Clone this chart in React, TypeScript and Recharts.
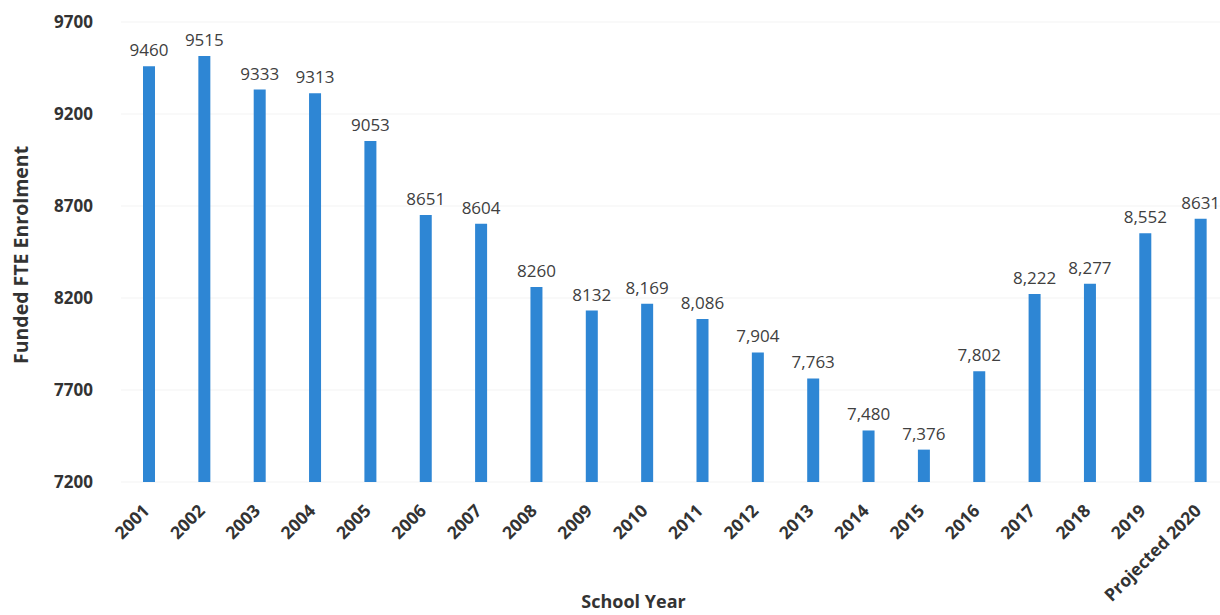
import { Bar, BarChart, CartesianGrid, LabelList, XAxis, YAxis } from 'recharts';

const years = [
  '2001', '2002', '2003', '2004', '2005', '2006', '2007', '2008', '2009', '2010',
  '2011', '2012', '2013', '2014', '2015', '2016', '2017', '2018', '2019', 'Projected 2020',
];

const enrolment = [
  9460, 9515, 9333, 9313, 9053, 8651, 8604, 8260, 8132, 8169,
  8086, 7904, 7763, 7480, 7376, 7802, 8222, 8277, 8552, 8631,
];

// labels as printed on the chart (some with thousands separators, some without)
const valueLabels = [
  '9460', '9515', '9333', '9313', '9053', '8651', '8604', '8260', '8132', '8,169',
  '8,086', '7,904', '7,763', '7,480', '7,376', '7,802', '8,222', '8,277', '8,552', '8631',
];

const yTicks = [7200, 7700, 8200, 8700, 9200, 9700];

const data = years.map((year, i) => ({
  year,
  value: enrolment[i],
  label: valueLabels[i],
}));

const FONT = '"Open Sans", "DejaVu Sans", sans-serif';
const TEXT = '#333333';
const BAR = '#2e86d4';

function YearTick(props: any) {
  const { x, y, payload } = props;
  return (
    <g transform={`translate(${x - 3},${y + 17})`}>
      <text
        transform="rotate(-45)"
        textAnchor="end"
        dominantBaseline="central"
        fontFamily={FONT}
        fontWeight={700}
        fontSize={17.5}
        fill={TEXT}
      >
        {payload.value}
      </text>
    </g>
  );
}

export default function App() {
  return (
    <>
      <style>{'html,body{margin:0;overflow:hidden;background:#fff}'}</style>
      <div style={{ position: 'fixed', left: 0, top: 0, width: 1220, height: 615, background: '#fff' }}>
        <BarChart
          width={1220}
          height={615}
          data={data}
          margin={{ top: 22, right: 0, bottom: 0, left: 0 }}
        >
          <CartesianGrid vertical={false} stroke="#f3f3f3" />
          <XAxis
            dataKey="year"
            axisLine={false}
            tickLine={false}
            interval={0}
            height={133}
            padding={{ left: 0, right: -8 }}
            tick={<YearTick />}
            label={{
              value: 'School Year',
              position: 'insideBottom',
              offset: 7,
              dx: -37,
              style: { fontFamily: FONT, fontWeight: 700, fontSize: 18, fill: TEXT },
            }}
          />
          <YAxis
            domain={[7200, 9700]}
            ticks={yTicks}
            axisLine={false}
            tickLine={false}
            tickSize={0}
            tickMargin={28}
            width={121}
            tick={{ fontFamily: FONT, fontWeight: 700, fontSize: 17, fill: TEXT }}
            label={{
              value: 'Funded FTE Enrolment',
              angle: -90,
              position: 'insideLeft',
              offset: 21,
              dy: 112,
              style: { fontFamily: FONT, fontWeight: 700, fontSize: 19.5, fill: TEXT },
            }}
          />
          <Bar dataKey="value" fill={BAR} barSize={12} isAnimationActive={false}>
            <LabelList
              dataKey="label"
              position="top"
              offset={10}
              style={{ fontFamily: FONT, fontSize: 17, fill: '#404040' }}
            />
          </Bar>
        </BarChart>
      </div>
    </>
  );
}
